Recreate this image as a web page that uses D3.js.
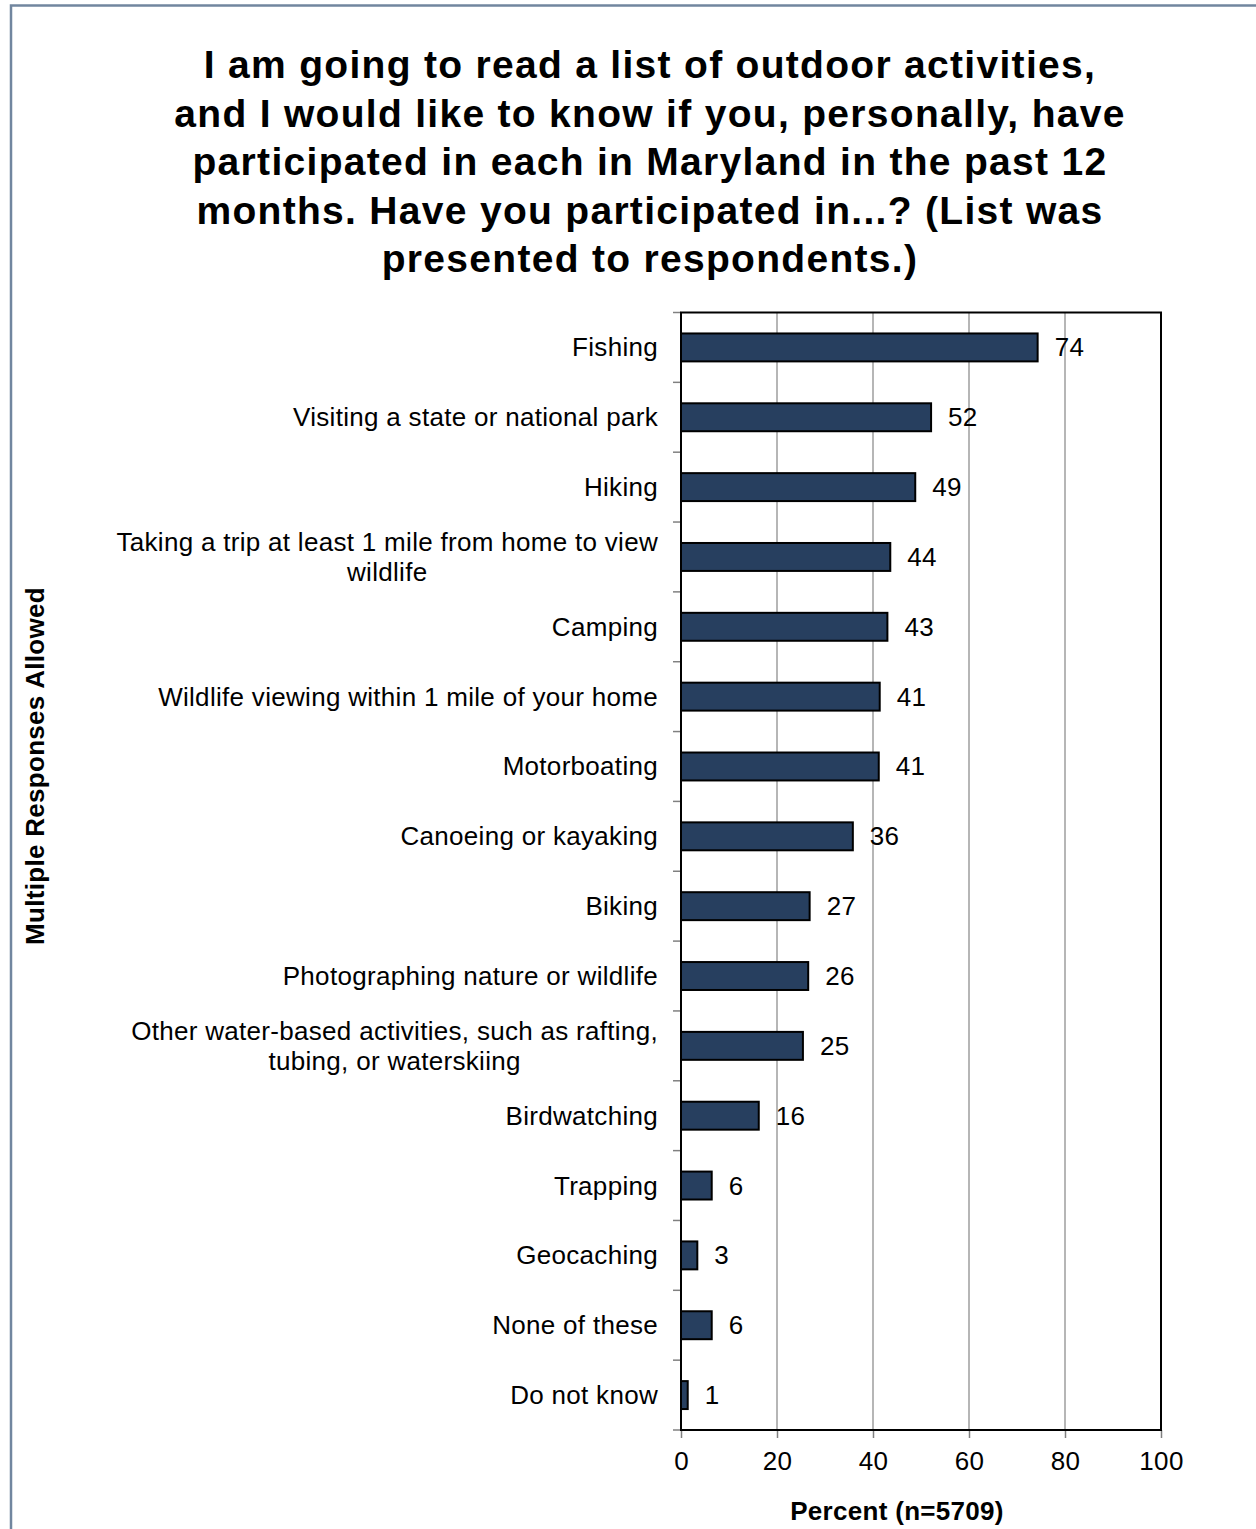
<!DOCTYPE html>
<html>
<head>
<meta charset="utf-8">
<script src="https://cdn.jsdelivr.net/npm/d3@7"></script>
<style>
  html, body { margin: 0; padding: 0; background: #fff; }
  svg { display: block; }
  text { font-family: "Liberation Sans", Arial, sans-serif; fill: #000; }
</style>
</head>
<body>
<svg id="chart" width="1256" height="1529"></svg>
<script>
const categories = [
  ["Fishing"],
  ["Visiting a state or national park"],
  ["Hiking"],
  ["Taking a trip at least 1 mile from home to view", "wildlife"],
  ["Camping"],
  ["Wildlife viewing within 1 mile of your home"],
  ["Motorboating"],
  ["Canoeing or kayaking"],
  ["Biking"],
  ["Photographing nature or wildlife"],
  ["Other water-based activities, such as rafting,", "tubing, or waterskiing"],
  ["Birdwatching"],
  ["Trapping"],
  ["Geocaching"],
  ["None of these"],
  ["Do not know"]
];
const values = [74.3, 52.1, 48.8, 43.6, 43.0, 41.4, 41.2, 35.8, 26.8, 26.5, 25.4, 16.2, 6.4, 3.4, 6.4, 1.4];
const valueLabels = ["74", "52", "49", "44", "43", "41", "41", "36", "27", "26", "25", "16", "6", "3", "6", "1"];
const xTicks = [0, 20, 40, 60, 80, 100];
const titleLines = [
  "I am going to read a list of outdoor activities,",
  "and I would like to know if you, personally, have",
  "participated in each in Maryland in the past 12",
  "months. Have you participated in...? (List was",
  "presented to respondents.)"
];
const yTitle = "Multiple Responses Allowed";
const xTitle = "Percent (n=5709)";

const svg = d3.select("#chart");
svg.append("rect").attr("width", 1256).attr("height", 1529).attr("fill", "#fff");

// outer frame
svg.append("rect")
  .attr("x", 11).attr("y", 5.5).attr("width", 1300).attr("height", 1700)
  .attr("fill", "none").attr("stroke", "#71869f").attr("stroke-width", 2.5);

const pL = 681, pR = 1161, pT = 312.5, pB = 1430;
const ids = categories.map((c, i) => i);

const x = d3.scaleLinear().domain([0, 100]).range([pL, pR]);
const y = d3.scaleBand().domain(ids).range([pT, pB]).paddingInner(0.6).paddingOuter(0.3);

const FS = "26px", LS = "0.3px";

// title
const tt = svg.append("text").attr("text-anchor", "middle")
  .style("font-weight", "bold").style("font-size", "39px").style("letter-spacing", "1.3px");
titleLines.forEach((l, i) => {
  tt.append("tspan").attr("x", 650).attr("y", 78 + i * 48.6).text(l);
});

// gridlines
svg.append("g").selectAll("line").data(xTicks.filter(t => t > 0 && t < 100)).join("line")
  .attr("x1", d => x(d)).attr("x2", d => x(d))
  .attr("y1", pT).attr("y2", pB)
  .attr("stroke", "#858585").attr("stroke-width", 1.2);

// x axis
const xAxis = d3.axisBottom(x).tickValues(xTicks).tickSize(8).tickPadding(14).tickSizeOuter(0);
const gx = svg.append("g").attr("transform", `translate(0,${pB})`).call(xAxis);
gx.select(".domain").remove();
gx.selectAll(".tick line").attr("stroke", "#808080").attr("stroke-width", 1.5);
gx.selectAll(".tick text").attr("dy", null).attr("y", 40).attr("fill", "#000")
  .style("font-size", FS).style("letter-spacing", LS).style("font-family", "Liberation Sans, Arial, sans-serif");

// left ticks at band boundaries
const step = y.step();
const boundaries = d3.range(categories.length + 1).map(i => pT + i * step);
svg.append("g").selectAll("line").data(boundaries).join("line")
  .attr("x1", pL - 8).attr("x2", pL)
  .attr("y1", d => d).attr("y2", d => d)
  .attr("stroke", "#808080").attr("stroke-width", 1.5);

// bars
svg.append("g").selectAll("rect").data(ids).join("rect")
  .attr("x", x(0)).attr("y", i => y(i))
  .attr("width", i => x(values[i]) - x(0)).attr("height", y.bandwidth())
  .attr("fill", "#273f5f").attr("stroke", "#000").attr("stroke-width", 2);

// plot frame
svg.append("rect").attr("x", pL).attr("y", pT).attr("width", pR - pL).attr("height", pB - pT)
  .attr("fill", "none").attr("stroke", "#000").attr("stroke-width", 2);

// value labels
svg.append("g").selectAll("text").data(ids).join("text")
  .attr("x", i => x(values[i]) + 17).attr("y", i => y(i) + y.bandwidth() / 2 + 9)
  .style("font-size", FS).style("letter-spacing", LS)
  .text(i => valueLabels[i]);

// category labels
const labelRight = 658;
ids.forEach(i => {
  const lines = categories[i];
  const cy = y(i) + y.bandwidth() / 2;
  const g = svg.append("text").style("font-size", FS).style("letter-spacing", LS)
    .attr("text-anchor", "middle");
  const lh = 30;
  const spans = lines.map((l, k) => g.append("tspan").text(l)
    .attr("y", cy + 9 + (k - (lines.length - 1) / 2) * lh));
  const maxW = d3.max(spans, s => s.node().getComputedTextLength());
  spans.forEach(s => s.attr("x", labelRight - maxW / 2));
});

// axis titles
svg.append("text").attr("x", 897).attr("y", 1520).attr("text-anchor", "middle")
  .style("font-weight", "bold").style("font-size", FS).style("letter-spacing", LS)
  .text(xTitle);

svg.append("text").attr("transform", "translate(44,766) rotate(-90)").attr("text-anchor", "middle")
  .style("font-weight", "bold").style("font-size", FS).style("letter-spacing", LS)
  .text(yTitle);
</script>
</body>
</html>
